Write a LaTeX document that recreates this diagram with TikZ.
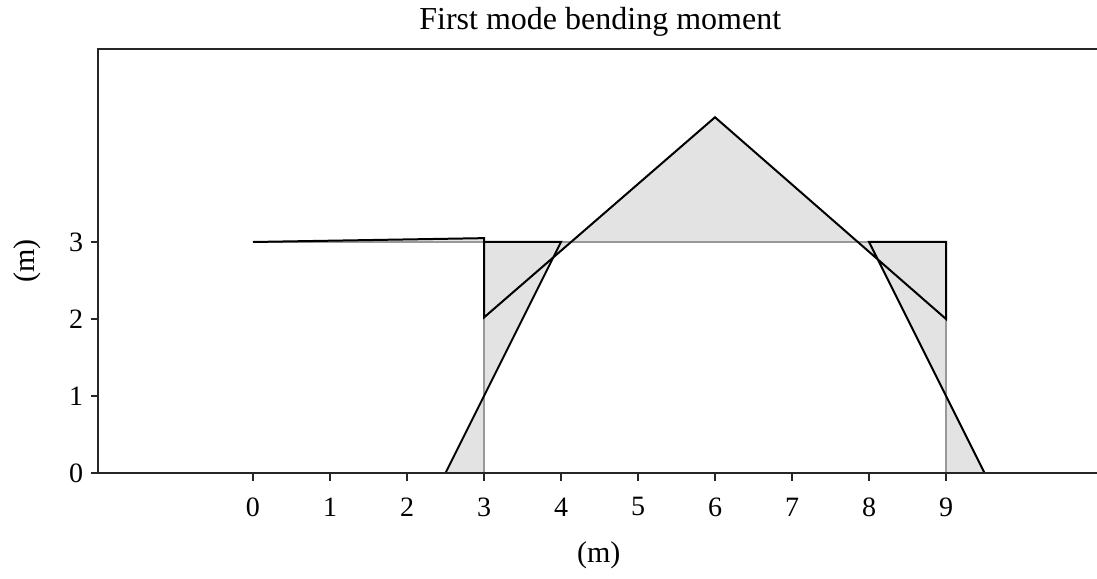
\documentclass[tikz,border=0pt]{standalone}
\usepackage{fontspec}
\setmainfont{Liberation Serif}
\begin{document}
\begin{tikzpicture}[x=38.5pt,y=38.5pt,
  fillc/.style={fill=black!11},
  baseln/.style={draw=black!40,line width=0.8pt},
  diag/.style={draw=black,line width=1pt,line join=miter},
  axisln/.style={draw=black!85,line width=1pt},
  ticklab/.style={font=\fontsize{14}{16}\selectfont,inner sep=0pt}]
\useasboundingbox (-3.2857,-1.3636) rectangle (10.9610,6.1429);
% vertices
\coordinate (A) at (0,3);
\coordinate (B) at (3,3.05);
\coordinate (C) at (3,2.02);
\coordinate (P) at (6,4.62);
\coordinate (D) at (9,2.0);
\coordinate (E) at (9,3);
\coordinate (F) at (8,3);
\coordinate (G) at (9.5,0);
\coordinate (H) at (2.5,0);
\coordinate (I) at (4,3);
\coordinate (J) at (3,3);
\coordinate (K) at (3,0);
\coordinate (L) at (9,0);
% fills
\fill[fillc] (A)--(B)--(J)--cycle;
\fill[fillc] (K)--(H)--(I)--(J)--cycle;
\fill[fillc] (J)--(C)--(P)--(D)--(E)--cycle;
\fill[fillc] (L)--(G)--(F)--(E)--cycle;
% baselines
\draw[baseln] (A)--(E);
\draw[baseln] (K)--(J);
\draw[baseln] (L)--(E);
% diagram outlines
\draw[diag] (A)--(B)--(C)--(P)--(D)--(E)--(F)--(G);
\draw[diag] (H)--(I)--(J);
% axes
\coordinate (TL) at (-2.013,5.506);
\coordinate (TR) at (10.961,5.506);
\coordinate (BL) at (-2.013,0);
\coordinate (BLx) at (-2.104,0);
\coordinate (BR) at (10.961,0);
\draw[axisln] (BL)--(TL)--(TR);
\draw[axisln] (BLx)--(BR);
\foreach \y in {1,2,3}{
  \draw[axisln] (-2.104,\y)--(-2.013,\y);
}
\foreach \y in {0,1,2,3}{
  \node[ticklab,anchor=east] (yl\y) at (-2.20,\y) {\y};
}
\foreach \x in {0,...,9}{
  \draw[axisln] (\x,0)--(\x,-0.104);
  \node[ticklab] (xl\x) at (\x,-0.44) {\x};
}
\node[font=\fontsize{15}{18}\selectfont] (xlab) at (4.49,-1.07) {(m)};
\node[font=\fontsize{15}{18}\selectfont,rotate=90] (ylab) at (-2.935,2.753) {(m)};
\node[font=\fontsize{16}{19}\selectfont] (title) at (4.51,5.86) {First mode bending moment};
\end{tikzpicture}
\end{document}
